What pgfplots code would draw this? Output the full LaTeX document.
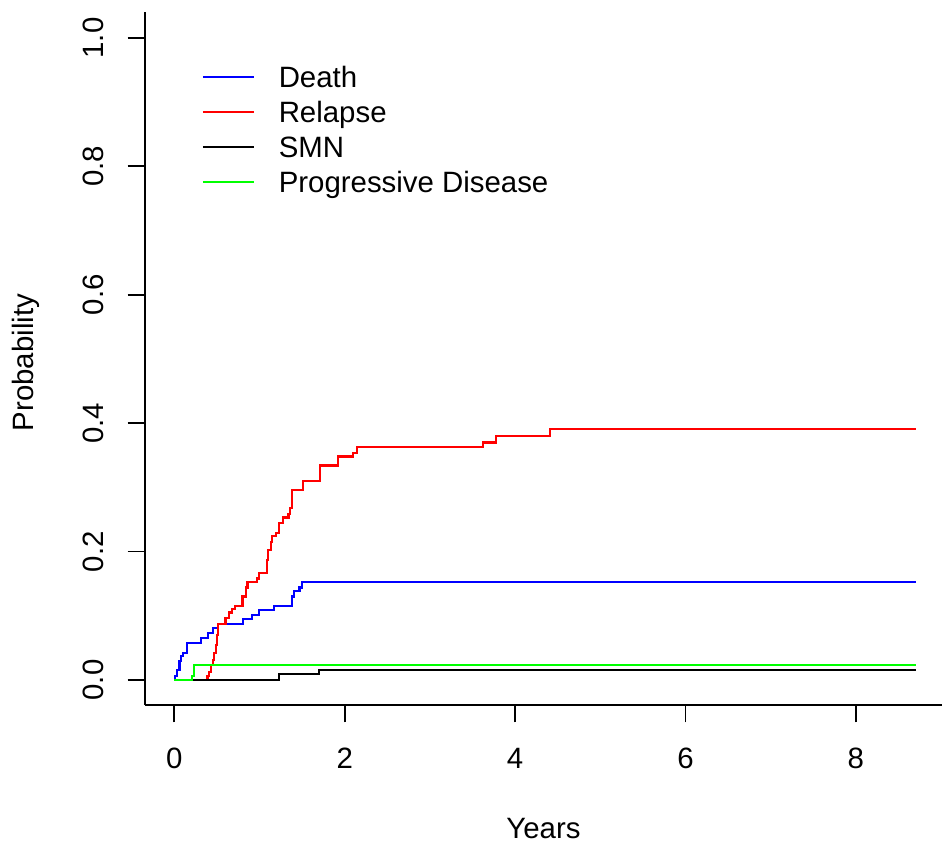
\documentclass[border=0pt]{standalone}
\usepackage{pgfplots}
\pgfplotsset{compat=1.18}
\usepackage{fontspec}
\setmainfont{Liberation Sans}
\newcommand\f{\fontsize{29.4}{35}\selectfont}
\begin{document}
\f
\begin{tikzpicture}
\path[use as bounding box] (0pt,0pt) rectangle (942pt,844pt);
\begin{axis}[
  at={(145pt,139pt)}, anchor=south west,
  scale only axis, width=797pt, height=693pt,
  xmin=-0.344, xmax=9.011, ymin=-0.039, ymax=1.0405,
  axis lines*=left,
  x axis line style={-}, y axis line style={-},
  axis line style={line width=1.8pt},
  tick align=outside, major tick length=17.3pt,
  tick style={line width=1.8pt, black},
  xtick={0,2,4,6,8}, ytick={0,0.2,0.4,0.6,0.8,1.0},
  minor tick num=0,
  /pgf/number format/assume math mode=true,
  tick label style={font=\f},
  xticklabel style={anchor=base},
  xticklabel shift=46.7pt,
  yticklabel style={rotate=90, anchor=base, /pgf/number format/.cd, fixed, fixed zerofill, precision=1},
  yticklabel shift=24.4pt,
  label style={font=\f},
  xlabel={Years},
  xlabel style={at={(axis description cs:0.5,-0.1925)}, anchor=base},
  ylabel={Probability},
  ylabel style={at={(axis description cs:-0.14015,0.494)}, rotate=0, anchor=base},
  legend style={at={(axis description cs:0.0711,0.9221)}, anchor=north west, draw=none, fill=none,
    inner sep=0pt, outer sep=0pt, row sep=0pt, column sep=0pt, font=\f,
    nodes={inner sep=0pt, outer sep=0pt, text height=22pt, text depth=13pt, anchor=base west}},
  legend cell align=left,
  legend image code/.code={\draw[#1] (0pt,11pt) -- (51.6pt,11pt); \path[draw=none,fill=none] (76pt,11pt) circle (0pt);},
]
\addplot[const plot, color={rgb,255:red,0;green,0;blue,255}, line width=2.2pt] coordinates {
(0,0) (0.01,0.006) (0.035,0.0156) (0.06,0.030) (0.075,0.037) (0.10,0.0425) (0.145,0.058)
(0.31,0.065) (0.40,0.0727) (0.45,0.0805) (0.517,0.0867) (0.81,0.0945) (0.91,0.101)
(0.994,0.109) (1.17,0.115) (1.385,0.130) (1.405,0.139) (1.47,0.144) (1.495,0.153) (8.7,0.153)};
\addlegendentry{Death}
\addplot[const plot, color={rgb,255:red,255;green,0;blue,0}, line width=2.2pt] coordinates {
(0,0) (0.38,0) (0.39,0.006) (0.41,0.013) (0.43,0.023) (0.45,0.031) (0.47,0.0415) (0.486,0.0545)
(0.497,0.070) (0.517,0.0867) (0.60,0.096) (0.645,0.105) (0.68,0.110) (0.71,0.115) (0.80,0.13)
(0.84,0.144) (0.86,0.153) (0.975,0.158) (0.994,0.167) (1.084,0.187) (1.104,0.2025) (1.135,0.215)
(1.15,0.224) (1.19,0.229) (1.23,0.245) (1.28,0.253) (1.34,0.2586) (1.358,0.268) (1.385,0.296)
(1.514,0.310) (1.71,0.334) (1.925,0.348) (2.10,0.354) (2.14,0.3625) (3.627,0.370) (3.78,0.380)
(4.41,0.3905) (8.7,0.3905)};
\addlegendentry{Relapse}
\addplot[const plot, color=black, line width=2.2pt] coordinates {
(0,0) (1.229,0.0093) (1.70,0.0156) (8.7,0.0156)};
\addlegendentry{SMN}
\addplot[const plot, color={rgb,255:red,0;green,255;blue,0}, line width=2.2pt] coordinates {
(0,0) (0.21,0.006) (0.235,0.0234) (8.7,0.0234)};
\addlegendentry{Progressive Disease}
\end{axis}
\end{tikzpicture}
\end{document}
